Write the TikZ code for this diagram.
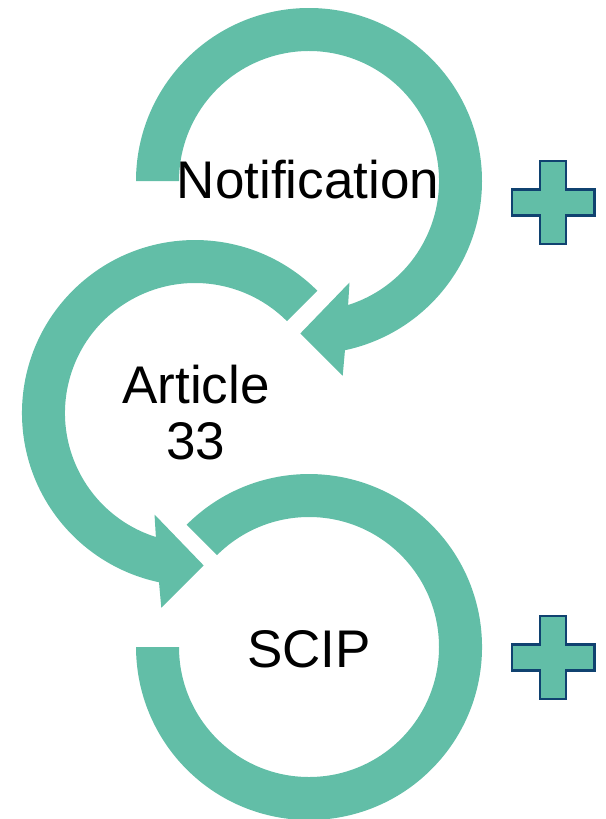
\documentclass[tikz,border=0pt]{standalone}
\usepackage{fontspec}
\setmainfont{Liberation Sans}
\definecolor{ringteal}{RGB}{98,190,167}
\definecolor{plusblue}{RGB}{16,66,112}
\begin{document}
\begin{tikzpicture}[x=1pt,y=-1pt,
  ring/.style={fill=ringteal,draw=none},
  label/.style={inner sep=0pt,font=\fontsize{53}{56}\selectfont,text=black,align=center},
  plussign/.pic={
    \filldraw[fill=ringteal,draw=plusblue,line width=2.4pt,line join=miter]
      (-13,-41.5) -- (13,-41.5) -- (13,-13) -- (41.3,-13) -- (41.3,13) -- (13,13)
      -- (13,41.5) -- (-13,41.5) -- (-13,13) -- (-41.3,13) -- (-41.3,-13) -- (-13,-13) -- cycle;
  }]
\useasboundingbox (0,0) rectangle (605,819);

% ring 1 (Notification), centre (309,181)
\fill[ring] (136,181) arc[start angle=180, end angle=438, radius=173]
  -- (342.7,375.7) -- (300.3,333.5) -- (349.5,282.5)
  -- (348.1,305.0) arc[start angle=432.5, end angle=180, radius=130] -- cycle;

% ring 2 (Article 33), centre (195,413)
\fill[ring] (317.3,290.7) arc[start angle=315, end angle=102, radius=173]
  -- (161.3,607.7) -- (203.7,565.5) -- (154.5,514.5)
  -- (155.9,537.0) arc[start angle=107.5, end angle=315, radius=130] -- cycle;

% ring 3 (SCIP), centre (309,647)
\fill[ring] (186.7,524.7) arc[start angle=225, end angle=540, radius=173]
  -- (179,647) arc[start angle=540, end angle=225, radius=130] -- cycle;

\node[label,anchor=base] (notif) at (308,198) {Notification};
\node[label] (art) at (196,413) {Article\\33};
\node[label,anchor=base] (scip) at (309,667) {SCIP};

\pic (plus1) at (553,202.5) {plussign};
\pic (plus2) at (553,657.5) {plussign};
\end{tikzpicture}
\end{document}
